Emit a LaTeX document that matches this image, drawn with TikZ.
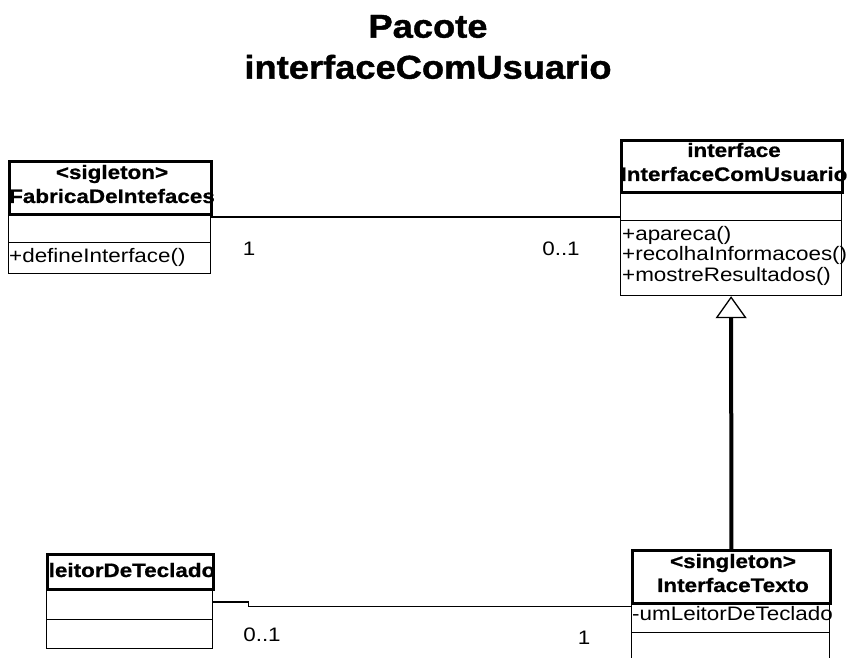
\documentclass[tikz,border=0pt]{standalone}
\usepackage{fontspec}
\newfontfamily\bodyfont[FakeStretch=1.15, BoldFeatures={FakeBold=0.8}]{Liberation Sans}
\newfontfamily\ttlfont[FakeStretch=1.1, BoldFeatures={FakeBold=1.2}]{Liberation Sans}
\usetikzlibrary{arrows.meta}
\begin{document}
\begin{tikzpicture}[x=1pt,y=-1pt,
  hdr/.style={draw, line width=2.8pt, inner sep=0pt, anchor=north west},
  cmp/.style={draw, line width=1.2pt, inner sep=0pt, anchor=north west},
  htxt/.style={inner sep=0pt, align=center, font=\bodyfont\bfseries\fontsize{19.5}{24}\selectfont},
  mtxt/.style={inner sep=0pt, align=left, font=\bodyfont\fontsize{19.5}{20.5}\selectfont},
  lbl/.style={inner sep=0pt, font=\bodyfont\fontsize{19.5}{20.5}\selectfont},
  assoc/.style={draw, line width=1.3pt},
  gen/.style={draw, line width=4pt, -{Triangle[open, length=22pt, width=31pt, line width=1.3pt]}},
  ttl/.style={inner sep=0pt, align=center, font=\ttlfont\bfseries\fontsize{33}{41}\selectfont}]
\useasboundingbox (0,0) rectangle (856,657);
\clip (0,0) rectangle (856,657);
\fill[white] (0,0) rectangle (856,657);

% title
\node[ttl] (title) at (428,47) {Pacote\\interfaceComUsuario};

% FabricaDeIntefaces
\node[cmp, minimum width=202pt, minimum height=29pt] (faba) at (8,213) {};
\node[cmp, minimum width=202pt, minimum height=31pt] (fabm) at (8,242) {};
\node[hdr, minimum width=202pt, minimum height=53pt] (fabh) at (8,160) {};
\node[htxt] (fabt) at (112,184) {<sigleton>\\FabricaDeIntefaces};
\node[mtxt, anchor=base west] (fabmt) at (9,262) {+defineInterface()};

% InterfaceComUsuario
\node[cmp, minimum width=221pt, minimum height=29pt] (icua) at (620,191) {};
\node[cmp, minimum width=221pt, minimum height=75pt] (icum) at (620,220) {};
\node[hdr, minimum width=221pt, minimum height=52pt] (icuh) at (620,139) {};
\node[htxt] (icut) at (734,162) {interface\\InterfaceComUsuario};
\node[mtxt, anchor=north west] (icumt) at (622,226) {+apareca()\\+recolhaInformacoes()\\+mostreResultados()};

% InterfaceTexto
\node[cmp, minimum width=198pt, minimum height=30pt] (ita) at (631,602) {};
\node[cmp, minimum width=198pt, minimum height=40pt] (itm) at (631,632) {};
\node[hdr, minimum width=198pt, minimum height=53pt] (ith) at (631,549) {};
\node[htxt] (itt) at (733,573) {<singleton>\\InterfaceTexto};
\node[mtxt, anchor=base west] (itat) at (632,620) {-umLeitorDeTeclado};

% leitorDeTeclado
\node[cmp, minimum width=166pt, minimum height=31pt] (lta) at (46,588) {};
\node[cmp, minimum width=166pt, minimum height=29pt] (ltm) at (46,619) {};
\node[hdr, minimum width=166pt, minimum height=35pt] (lth) at (46,553) {};
\node[htxt, anchor=base] (ltt) at (132,577) {leitorDeTeclado};

% associations
\draw[assoc] ([yshift=-4pt]faba.north east) -- ([yshift=-4pt]faba.north east -| icua.west);
\node[lbl] (m1) at (249,249) {1};
\node[lbl] (m2) at (561,249) {0..1};

\draw[assoc] ([yshift=2pt]lta.east) -- ++(35,0) |- ([yshift=11pt]ita.west);
\node[lbl] (m3) at (262,635) {0..1};
\node[lbl] (m4) at (584,638) {1};

% generalization
\draw[gen] (ith.north) -- (icum.south);
\end{tikzpicture}
\end{document}
